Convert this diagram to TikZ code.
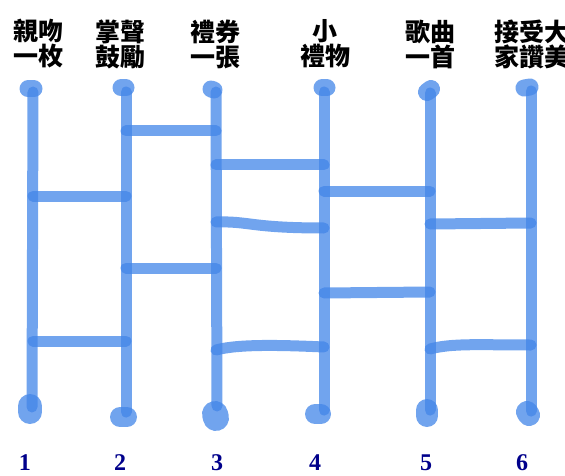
\documentclass[tikz,border=0pt]{standalone}
\usepackage{fontspec}
\setmainfont{Liberation Serif}
\newfontfamily\cjk{Noto Sans CJK TC}
\usepackage{xcolor}
\usepackage{tikz}
\usetikzlibrary{calc}
\definecolor{polecolor}{RGB}{66,133,232}
\definecolor{numcolor}{RGB}{0,0,139}
\tikzset{
  pole/.style={draw=polecolor,draw opacity=0.75,line width=11pt,line cap=round},
  rung/.style={draw=polecolor,draw opacity=0.75,line width=11pt,line cap=round,line join=round},
  blob/.style={draw=polecolor,draw opacity=0.75,line cap=round},
  prize/.style={font=\cjk\bfseries\fontsize{25}{25}\selectfont,align=center,inner sep=0pt},
  pnum/.style={font=\bfseries\fontsize{24}{24}\selectfont,text=numcolor,inner sep=0pt,anchor=base}
}

\begin{document}
\begin{tikzpicture}[x=1pt,y=-1pt]
  \clip (0,0) rectangle (565,476);

  % --- Prize labels ---
  \node[prize] (lab1) at (38,44) {親吻\\一枚};
  \node[prize] (lab2) at (120,44) {掌聲\\鼓勵};
  \node[prize] (lab3) at (215,44) {禮券\\一張};
  \node[prize] (lab4) at (325,44) {小\\禮物};
  \node[prize] (lab5) at (430,44) {歌曲\\一首};
  \node[prize] (lab6) at (532,44) {接受大\\家讚美};

  % --- Pole ends ---
  \coordinate (t1) at (33,92);  \coordinate (b1) at (32,407);
  \coordinate (t2) at (126,92); \coordinate (b2) at (126,412);
  \coordinate (t3) at (216,92); \coordinate (b3) at (217,406);
  \coordinate (t4) at (324,92); \coordinate (b4) at (324,410);
  \coordinate (t5) at (430,93); \coordinate (b5) at (430,410);
  \coordinate (t6) at (531,91); \coordinate (b6) at (531,411);

  % --- Poles ---
  \draw[pole] (t1) -- (b1);
  \draw[pole] (t2) -- (b2);
  \draw[pole] (t3) -- (b3);
  \draw[pole] (t4) -- (b4);
  \draw[pole] (t5) -- (b5);
  \draw[pole] (t6) -- (b6);

  % --- Blobs at the top ---
  \draw[blob,line width=17pt] ($(t1)+(-5,-3)$) -- ($(t1)+(1,-3)$);
  \draw[blob,line width=17pt] ($(t2)+(-5,-4)$) -- ($(t2)+(0,-4)$);
  \draw[blob,line width=17pt] ($(t3)+(-5,-3)$) -- ($(t3)+(-2,-2)$);
  \draw[blob,line width=17pt] ($(t4)+(-2,-4)$) -- ($(t4)+(3,-4)$);
  \draw[blob,line width=18pt] ($(t5)+(-3,-1)$) -- ($(t5)+(1,-4)$);
  \draw[blob,line width=17pt] ($(t6)+(-7,-3)$) -- ($(t6)+(-1,-4)$);

  % --- Blobs at the bottom ---
  \draw[blob,line width=24pt] ($(b1)+(-2,-1)$) -- ($(b1)+(-2,5)$);
  \draw[blob,line width=20pt] ($(b2)+(-6,5)$) -- ($(b2)+(1,5)$);
  \draw[blob,line width=26pt] ($(b3)+(-2,8)$) -- ($(b3)+(-1,12)$);
  \draw[blob,line width=20pt] ($(b4)+(-9,4)$) -- ($(b4)+(-3,4)$);
  \draw[blob,line width=22pt] ($(b5)+(-3,0)$) -- ($(b5)+(-3,6)$);
  \draw[blob,line width=22pt] ($(b6)+(-4,1)$) -- ($(b6)+(-2,4)$);

  % --- Rungs 1-2 ---
  \draw[rung] (t1 |- 0,196) -- (t2 |- 0,196);
  \draw[rung] (t1 |- 0,341) -- (t2 |- 0,341);

  % --- Rungs 2-3 ---
  \draw[rung] (t2 |- 0,131) -- (t3 |- 0,131);
  \draw[rung] (t2 |- 0,268) -- (t3 |- 0,268);

  % --- Rungs 3-4 ---
  \draw[rung] (t3 |- 0,165) -- (t4 |- 0,165);
  \draw[rung] (t3 |- 0,222)
    .. controls (250,221) and (250,228) ..
    (t4 |- 0,228);
  \draw[rung] (t3 |- 0,350)
    .. controls (238,344) and (280,345) ..
    (t4 |- 0,347);

  % --- Rungs 4-5 ---
  \draw[rung] (t4 |- 0,191) -- (t5 |- 0,191);
  \draw[rung] (t4 |- 0,293) -- (t5 |- 0,292);

  % --- Rungs 5-6 ---
  \draw[rung] (t5 |- 0,224) -- (t6 |- 0,223);
  \draw[rung] (t5 |- 0,349)
    .. controls (452,343) and (480,345) ..
    (t6 |- 0,345);

  % --- Pole numbers ---
  \node[pnum] (n1) at (25,470) {1};
  \node[pnum] (n2) at (120,470) {2};
  \node[pnum] (n3) at (217,470) {3};
  \node[pnum] (n4) at (315,470) {4};
  \node[pnum] (n5) at (426,470) {5};
  \node[pnum] (n6) at (522,470) {6};

\end{tikzpicture}
\end{document}
